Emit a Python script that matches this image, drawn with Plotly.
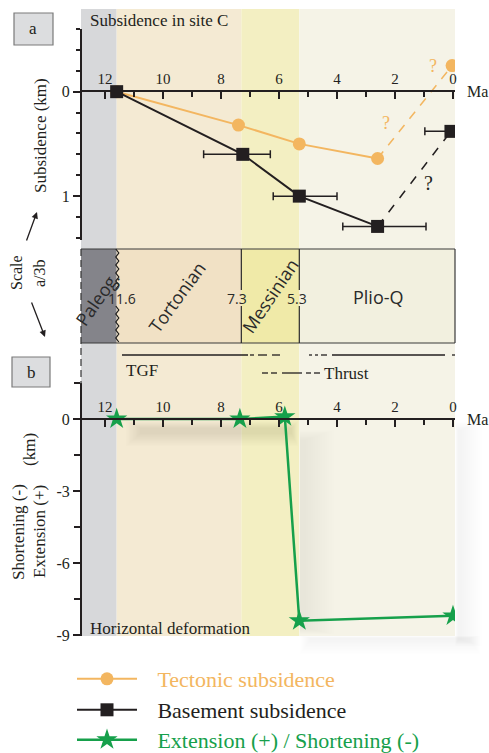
import plotly.graph_objects as go

W, H = 489, 753
def px(x): return x / W
def py(y): return 1 - y / H

SERIF = "Liberation Serif"
SANS = "Open Sans"
INK = "#231f20"
ORANGE = "#f3b660"
GREEN = "#16a04b"

# ---------------- data ----------------
epochs = ["Paleog.", "Tortonian", "Messinian", "Plio-Q"]
epoch_start = [12.83, 11.6, 7.3, 5.3]
epoch_end = [11.6, 7.3, 5.3, -0.07]
band_colors = ["#d7d8da", "#f4ead3", "#f3efc2", "#f5f3e7"]
column_colors = ["#84848a", "#f1e1c5", "#f0eaa8", "#f2f0df"]
boundary_ages = [11.6, 7.3, 5.3]
boundary_labels = ["11.6", "7.3", "5.3"]

x_ticks = [12, 10, 8, 6, 4, 2, 0]
x_minor = [11, 9, 7, 5, 3, 1]

tect_age = [11.6, 7.4, 5.3, 2.6]
tect_sub = [0.0, 0.32, 0.50, 0.64]
tect_proj_age = [2.6, 0.03]
tect_proj_sub = [0.64, -0.25]

base_age = [11.6, 7.25, 5.3, 2.6]
base_sub = [0.0, 0.60, 1.00, 1.29]
base_err_older = [0, 1.35, 0.9, 1.2]
base_err_younger = [0, 0.95, 1.3, 1.67]
base_proj_age = [2.6, 0.07]
base_proj_sub = [1.29, 0.38]
base_proj_err_older = [0.9]

def_age = [11.6, 7.35, 5.8, 5.3, 0.0]
def_km = [0.0, 0.0, 0.1, -8.4, -8.2]

y2_ticks = [0, -3, -6, -9]
y2_ticktext = ["0", "-3", "-6", "-9"]

fig = go.Figure()

# tectonic subsidence
fig.add_trace(go.Scatter(x=tect_proj_age, y=tect_proj_sub, mode="lines",
                         line=dict(color=ORANGE, width=1.5, dash="9px,8px"),
                         showlegend=False, xaxis="x", yaxis="y"))
fig.add_trace(go.Scatter(x=tect_proj_age[1:], y=tect_proj_sub[1:], mode="markers",
                         marker=dict(color=ORANGE, size=13, symbol="circle"),
                         showlegend=False, xaxis="x", yaxis="y"))
fig.add_trace(go.Scatter(x=tect_age, y=tect_sub, mode="lines+markers",
                         name="\u2002\u2009Tectonic subsidence",
                         line=dict(color=ORANGE, width=2),
                         marker=dict(color=ORANGE, size=13, symbol="circle"),
                         legend="legend", xaxis="x", yaxis="y"))
# basement subsidence
fig.add_trace(go.Scatter(x=base_proj_age, y=base_proj_sub, mode="lines",
                         line=dict(color=INK, width=1.5, dash="9px,9px"),
                         showlegend=False, xaxis="x", yaxis="y"))
fig.add_trace(go.Scatter(x=base_proj_age[1:], y=base_proj_sub[1:], mode="markers",
                         marker=dict(color=INK, size=13, symbol="square"),
                         error_x=dict(type="data", symmetric=False, array=base_proj_err_older,
                                      arrayminus=[0], color=INK, thickness=1.5, width=4),
                         showlegend=False, xaxis="x", yaxis="y"))
fig.add_trace(go.Scatter(x=base_age, y=base_sub, mode="lines+markers",
                         name="\u2002\u2009Basement subsidence",
                         line=dict(color=INK, width=2),
                         marker=dict(color=INK, size=13, symbol="square"),
                         error_x=dict(type="data", symmetric=False, array=base_err_older,
                                      arrayminus=base_err_younger, color=INK, thickness=1.5, width=4),
                         legend="legend2", xaxis="x", yaxis="y"))
# horizontal deformation
fig.add_trace(go.Scatter(x=def_age, y=def_km, mode="lines+markers",
                         name="\u2002\u2009Extension (+) / Shortening (-)",
                         line=dict(color=GREEN, width=2.5),
                         marker=dict(color=GREEN, size=16, symbol="star"),
                         legend="legend3", xaxis="x2", yaxis="y2"))

shapes = []
# background bands
for s, e, c in zip(epoch_start, epoch_end, band_colors):
    shapes.append(dict(type="rect", xref="x", yref="paper", x0=s, x1=e,
                       y0=py(636), y1=py(9), fillcolor=c, line=dict(width=0), layer="below"))

# soft shadows in panel b (stacked translucent rects)
def blur(x0, x1, y0, y1, el, er, et, eb, n, a, color):
    for k in range(n + 1):
        f = k / n
        shapes.append(dict(type="rect", xref="paper", yref="paper",
                           x0=px(x0 - el * f), x1=px(x1 + er * f),
                           y0=py(y1 + eb * f), y1=py(y0 - et * f),
                           fillcolor=f"rgba({color},{a})", line=dict(width=0), layer="below"))
blur(140, 292, 428, 434, 14, 6, 7, 12, 10, 0.011, "120,95,60")
blur(300, 306, 440, 628, 0, 28, 10, 6, 12, 0.008, "110,100,80")
blur(310, 470, 638, 640, 10, 10, 2, 14, 10, 0.006, "90,90,90")
blur(458, 462, 430, 640, 3, 20, 8, 6, 10, 0.006, "90,90,90")

# stratigraphic column
for s, e, c in zip(epoch_start, epoch_end, column_colors):
    shapes.append(dict(type="rect", xref="x", yref="paper", x0=s, x1=e,
                       y0=py(343), y1=py(249), fillcolor=c, line=dict(width=0), layer="below"))
def seg(x0, y0, x1, y1, color="#3a3a3a", w=1.2, dash=None):
    ln = dict(color=color, width=w)
    if dash:
        ln["dash"] = dash
    shapes.append(dict(type="line", xref="paper", yref="paper", x0=px(x0), x1=px(x1),
                       y0=py(y0), y1=py(y1), line=ln))
seg(81, 249, 455, 249)
seg(81, 343, 455, 343)
seg(455, 249, 455, 343)
seg(81, 249, 81, 384, "#333", 1.2, "7px,4px")
for a in boundary_ages[1:]:
    shapes.append(dict(type="line", xref="x", yref="paper", x0=a, x1=a,
                       y0=py(249), y1=py(290), line=dict(color="#2a2a2a", width=1.2)))
    shapes.append(dict(type="line", xref="x", yref="paper", x0=a, x1=a,
                       y0=py(306), y1=py(343), line=dict(color="#2a2a2a", width=1.2)))
# wavy unconformity (with gap for label)
for (ya, yb) in [(249, 290), (306, 343)]:
    pts = []
    yy = ya
    k = 0
    while yy <= yb:
        xx = 117 + (1.8 if k % 2 else -1.2)
        pts.append((px(xx), py(yy)))
        yy += 4
        k += 1
    path = "M " + " L ".join(f"{a:.5f},{b:.5f}" for a, b in pts)
    shapes.append(dict(type="path", xref="paper", yref="paper", path=path,
                       line=dict(color="#1a1a1a", width=1.2)))
# TGF line pieces
def hseg(x0, x1, y, w=1.3):
    shapes.append(dict(type="line", xref="paper", yref="paper", x0=px(x0), x1=px(x1),
                       y0=py(y), y1=py(y), line=dict(color=INK, width=w)))
hseg(122, 248, 355)
hseg(250, 254, 355); hseg(258, 267, 355); hseg(272, 280, 355)
hseg(309, 312, 355); hseg(315, 318, 355); hseg(321, 327, 355)
hseg(332, 445, 355)
hseg(452, 455, 355)
# Thrust line pieces
hseg(262, 268, 373); hseg(271, 277, 373); hseg(282, 302, 373)
hseg(306, 311, 373); hseg(314, 320, 373)
# label boxes
for (x0, y0, x1, y1) in [(14, 13, 53, 45), (12, 357, 50, 387)]:
    shapes.append(dict(type="rect", xref="paper", yref="paper", x0=px(x0), x1=px(x1),
                       y0=py(y1), y1=py(y0), fillcolor="#dcdddf",
                       line=dict(color="#7a7a7a", width=1.2)))

ann = []
def txt(x, y, s, size=17, color=INK, font=SERIF, angle=0, xanchor="center"):
    ann.append(dict(x=px(x), y=py(y), xref="paper", yref="paper", text=s, showarrow=False,
                    font=dict(family=font, size=size, color=color), textangle=angle,
                    xanchor=xanchor, yanchor="middle"))

txt(33, 29, "a", 17)
txt(31, 372, "b", 17)
txt(88, 21, "Subsidence in site C", 17, xanchor="left")
txt(88, 628, "Horizontal deformation", 17, xanchor="left")
txt(465, 91, "Ma", 16, xanchor="left")
txt(465, 420, "Ma", 16, xanchor="left")
txt(40, 136, "Subsidence (km)", 17, angle=-90)
txt(18, 532, "Shortening (-)", 17, angle=-90)
txt(39, 532, "Extension (+)", 17, angle=-90)
txt(29, 450, "(km)", 17, angle=-90)
txt(16, 273, "Scale", 16, angle=-90)
txt(39, 273, "a/3b", 16, angle=-90)
txt(124, 370, "TGF", 17, xanchor="left")
txt(322, 373, "Thrust", 17, xanchor="left")
# column labels
col_centers = [(97, 299), (177, 297), (270, 296), (378, 297)]
col_angles = [-55, -54, -56, 0]
col_sizes = [18, 18, 18, 18]
for name, (cx, cy), ang, sz in zip(epochs, col_centers, col_angles, col_sizes):
    txt(cx, cy, name, sz, "#2a2a2a", SANS, angle=ang)
for lab, cx in zip(boundary_labels, [122, 237, 297]):
    txt(cx, 298, lab, 14, "#2a2a2a", SANS)
# question marks (data coords)
for (a, s, c, sz) in [(0.69, -0.25, ORANGE, 18), (2.31, 0.30, ORANGE, 18), (0.86, 0.87, INK, 20)]:
    ann.append(dict(x=a, y=s, xref="x", yref="y", text="?", showarrow=False,
                    font=dict(family=SERIF, size=sz, color=c)))
# scale arrows
ann.append(dict(x=px(37), y=py(212), xref="paper", yref="paper", ax=-11, ay=30,
                showarrow=True, arrowhead=2, arrowsize=1, arrowwidth=1.3, arrowcolor=INK, text=""))
ann.append(dict(x=px(45), y=py(337), xref="paper", yref="paper", ax=-14, ay=-36,
                showarrow=True, arrowhead=2, arrowsize=1, arrowwidth=1.3, arrowcolor=INK, text=""))

tickfont = dict(family=SERIF, size=16, color=INK)
xcommon = dict(domain=[px(81), px(455)], range=[12.83, -0.07], anchor="free", side="top",
               ticks="inside", ticklen=7, tickwidth=1.8, tickcolor=INK,
               tickvals=x_ticks, ticktext=[str(v) for v in x_ticks],
               minor=dict(tickvals=x_minor, ticks="inside", ticklen=5, tickwidth=1.8, tickcolor=INK),
               showline=True, linewidth=2, linecolor=INK, showgrid=False, zeroline=False,
               tickfont=dict(family=SERIF, size=15, color=INK))
ycommon = dict(anchor="free", position=px(81), side="left", ticks="outside", ticklen=7,
               tickwidth=1.8, tickcolor=INK, showline=True, linewidth=2, linecolor=INK,
               showgrid=False, zeroline=False, tickfont=tickfont)

def leg(y, color):
    return dict(x=px(72), y=py(y), xref="container", yref="container",
                xanchor="left", yanchor="middle", itemwidth=60,
                bgcolor="rgba(0,0,0,0)", font=dict(family=SERIF, size=22, color=color))

fig.update_layout(
    width=W, height=H, margin=dict(l=0, r=0, t=0, b=0, autoexpand=False),
    paper_bgcolor="white", plot_bgcolor="rgba(0,0,0,0)",
    xaxis=dict(position=py(91), **xcommon),
    xaxis2=dict(position=py(419), **xcommon),
    yaxis=dict(domain=[py(240), py(29)], range=[1.42, -0.6], tickvals=[0, 1],
               minor=dict(tickvals=[-0.6, -0.4, -0.2, 0.2, 0.4, 0.6, 0.8, 1.2, 1.4],
                          ticks="outside", ticklen=4, tickwidth=1.8, tickcolor=INK),
               **ycommon),
    yaxis2=dict(domain=[py(636), py(383)], range=[-9.04, 1.5], tickvals=y2_ticks,
                ticktext=y2_ticktext,
                minor=dict(tickvals=[1.5, -1.5, -4.5, -7.5], ticks="outside", ticklen=6,
                           tickwidth=1.8, tickcolor=INK),
                **ycommon),
    shapes=shapes, annotations=ann,
    legend=leg(679, ORANGE),
    legend2=leg(710, INK),
    legend3=leg(740, GREEN),
)

fig.write_html("out.html")
